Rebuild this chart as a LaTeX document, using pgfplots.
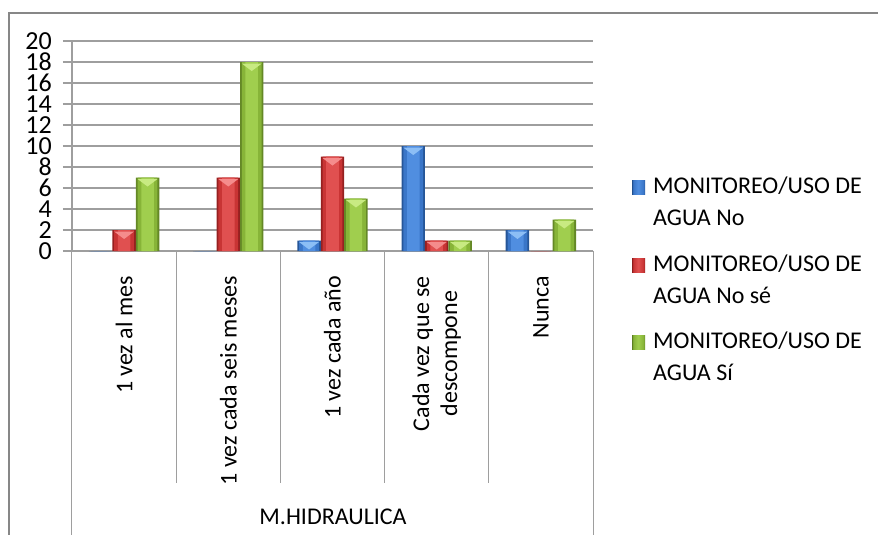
\documentclass[border=0pt]{standalone}
\usepackage{pgfplots}
\pgfplotsset{compat=1.18}
\usepackage{pgfplotstable}
\usepackage{fontspec}
\setmainfont{Carlito}

\definecolor{gridgray}{RGB}{158,158,158}
\definecolor{framegray}{RGB}{135,135,135}
\definecolor{bluedark}{RGB}{38,86,152}
\definecolor{bluemid}{RGB}{58,118,200}
\definecolor{bluehi}{RGB}{80,142,224}
\definecolor{bluetop}{RGB}{140,190,245}
\definecolor{reddark}{RGB}{150,32,32}
\definecolor{redmid}{RGB}{200,52,52}
\definecolor{redhi}{RGB}{224,80,80}
\definecolor{redtop}{RGB}{245,140,140}
\definecolor{greendark}{RGB}{100,136,38}
\definecolor{greenmid}{RGB}{135,180,56}
\definecolor{greenhi}{RGB}{160,206,78}
\definecolor{greentop}{RGB}{200,234,130}

% shading of the legend keys: dark rims, lighter centre
\pgfdeclarehorizontalshading{bluebar}{100bp}{color(0bp)=(bluedark); color(25bp)=(bluedark);
  color(29bp)=(bluemid); color(48bp)=(bluehi); color(68bp)=(bluemid); color(75bp)=(bluedark); color(100bp)=(bluedark)}
\pgfdeclarehorizontalshading{redbar}{100bp}{color(0bp)=(reddark); color(25bp)=(reddark);
  color(29bp)=(redmid); color(48bp)=(redhi); color(68bp)=(redmid); color(75bp)=(reddark); color(100bp)=(reddark)}
\pgfdeclarehorizontalshading{greenbar}{100bp}{color(0bp)=(greendark); color(25bp)=(greendark);
  color(29bp)=(greenmid); color(48bp)=(greenhi); color(68bp)=(greenmid); color(75bp)=(greendark); color(100bp)=(greendark)}

% light facet on top of each bar
\pgfdeclareplotmark{bevel}{%
  \pgfpathmoveto{\pgfqpoint{-10pt}{-1.5pt}}%
  \pgfpathlineto{\pgfqpoint{10pt}{-1.5pt}}%
  \pgfpathlineto{\pgfqpoint{0pt}{-9pt}}%
  \pgfpathclose\pgfusepathqfill}

% frequency of hydraulic maintenance, by answer on water use monitoring
\pgfplotstableread{
x no nose si
0 0  2 7
1 0  7 18
2 1  9 5
3 10 1 1
4 2  0 3
}\datatable

\newcommand{\chartfont}{\fontsize{24}{28}\selectfont}
% legend key: square beside the first line of a two-line entry
\newcommand{\legkey}[1]{%
  \pgfpathrectangle{\pgfqpoint{0pt}{-21.5pt}}{\pgfqpoint{13pt}{43pt}}\pgfusepath{use as bounding box}%
  \shade[shading=#1] (0pt,7.5pt) rectangle (13pt,21.5pt);}

% one series drawn as nested bars: rim, body, highlight, top facet
\newcommand{\barseries}[5]{% column, shift (axis units), shift (pt), colour prefix, legend text
  \addplot[draw=none, fill=#4dark, bar width=0.225, bar shift=#2,
    legend image code/.code={\legkey{#4bar}}] table[x=x, y=#1]{\datatable};
  \addlegendentry{#5}
  \addplot[forget plot, draw=none, fill=#4mid, bar width=0.19, bar shift=#2] table[x=x, y=#1]{\datatable};
  \addplot[forget plot, draw=none, fill=#4hi, bar width=0.12, bar shift=#2] table[x=x, y=#1]{\datatable};
  \addplot[forget plot, only marks, mark=bevel, mark options={fill=#4top, draw=none, xshift=#3},
    restrict y to domain=0.5:100] table[x=x, y=#1]{\datatable};
}

\begin{document}
\begin{tikzpicture}
\begin{axis}[
  at={(0pt,0pt)}, anchor=south west,
  scale only axis, width=521pt, height=210pt,
  xmin=-0.5, xmax=4.5, ymin=0, ymax=20,
  ytick={0,2,...,20},
  xtick={0,...,4},
  xticklabels={1 vez al mes, 1 vez cada seis meses, 1 vez cada año, {Cada vez que se\\descompone}, Nunca},
  axis x line*=bottom, axis y line*=left,
  axis line style={gridgray, line width=1.2pt},
  ymajorgrids, grid style={gridgray, line width=1.2pt},
  ytick style={gridgray, line width=1.2pt},
  xtick style={draw=none},
  tick align=outside, major tick length=9pt,
  /pgf/number format/assume math mode=true,
  ticklabel style={text=black},
  yticklabel style={font=\fontsize{26}{28}\selectfont, inner sep=0pt, anchor=east, xshift=-11pt,
    text height=16.5pt, text depth=0pt},
  xticklabel style={font=\chartfont, rotate=90, anchor=east, align=center, inner sep=0pt, xshift=-16pt},
  ybar,
  clip=false,
  legend style={draw=none, fill=none, at={(1.0749,0.352)}, anchor=north west,
    inner sep=0pt, row sep=27pt, column sep=8pt,
    nodes={inner sep=0pt, align=left, font=\fontsize{24}{32}\selectfont}},
  legend cell align=left,
]
\barseries{no}{-0.225}{-23.45pt}{blue}{MONITOREO/USO DE\\AGUA No}
\barseries{nose}{0}{0pt}{red}{MONITOREO/USO DE\\AGUA No sé}
\barseries{si}{0.225}{23.45pt}{green}{MONITOREO/USO DE\\AGUA Sí}
\end{axis}

% category dividers of the two-level axis
\foreach \k in {1,2,3,4}
  \draw[gridgray, line width=1pt] (104.2pt*\k,0pt) -- (104.2pt*\k,-232pt);
\draw[gridgray, line width=1pt] (0pt,0pt) -- (0pt,-300pt);
\draw[gridgray, line width=1pt] (521pt,0pt) -- (521pt,-300pt);
\node[anchor=base, font=\chartfont] at (261pt,-273pt) {M.HIDRAULICA};

% chart area border
\draw[framegray, line width=2pt] (-63pt,-300pt) -- (-63pt,238pt) -- (820pt,238pt);

\pgfresetboundingbox
\useasboundingbox (-72pt,-284pt) rectangle (806pt,251pt);
\end{tikzpicture}
\end{document}
